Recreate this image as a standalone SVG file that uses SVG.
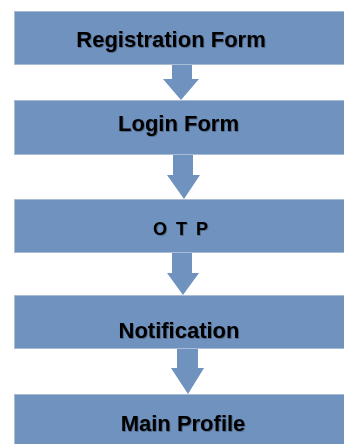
<svg xmlns="http://www.w3.org/2000/svg" width="344" height="444" viewBox="0 0 344 444">
<style>
.box{fill:#6F92BF;stroke:#A9BCD6;stroke-width:1}
.arr{fill:#6F92BF}
.lbl{font-family:"Liberation Sans",Arial,sans-serif;font-weight:bold;font-size:22px;fill:#000;text-anchor:middle;filter:url(#sh)}
</style>
<defs>
<filter id="sh" x="-10%" y="-30%" width="120%" height="160%">
<feDropShadow dx="0.8" dy="0.8" stdDeviation="0.6" flood-color="#000" flood-opacity="0.35"/>
</filter>
</defs>
<rect width="344" height="444" fill="#fff"/>
<g id="connectors">
<polygon class="arr" points="172,64 192,64 192,79 199,79 181,100 163,79 172,79"/>
<polygon class="arr" points="173,155 193,155 193,175 200,175 184,199 167,175 173,175"/>
<polygon class="arr" points="172,253 192,253 192,273 199,273 183,295 167,273 172,273"/>
<polygon class="arr" points="177,349 198,349 198,368 204,368 188,394 171,368 177,368"/>
</g>
<g id="registration">
<rect class="box" x="14.5" y="11.5" width="340" height="53"/>
<text class="lbl" x="171" y="46.5">Registration Form</text>
</g>
<g id="login">
<rect class="box" x="14.5" y="100.5" width="340" height="54"/>
<text class="lbl" x="178.5" y="131">Login Form</text>
</g>
<g id="otp">
<rect class="box" x="14.5" y="199.5" width="340" height="53"/>
<text class="lbl" x="181.5" y="235" style="font-size:18px;letter-spacing:2px">O T P</text>
</g>
<g id="notification">
<rect class="box" x="14.5" y="295.5" width="340" height="53"/>
<text class="lbl" x="179" y="337.5">Notification</text>
</g>
<g id="mainprofile">
<rect class="box" x="14.5" y="394.5" width="340" height="60"/>
<text class="lbl" x="183" y="431">Main Profile</text>
</g>
</svg>
